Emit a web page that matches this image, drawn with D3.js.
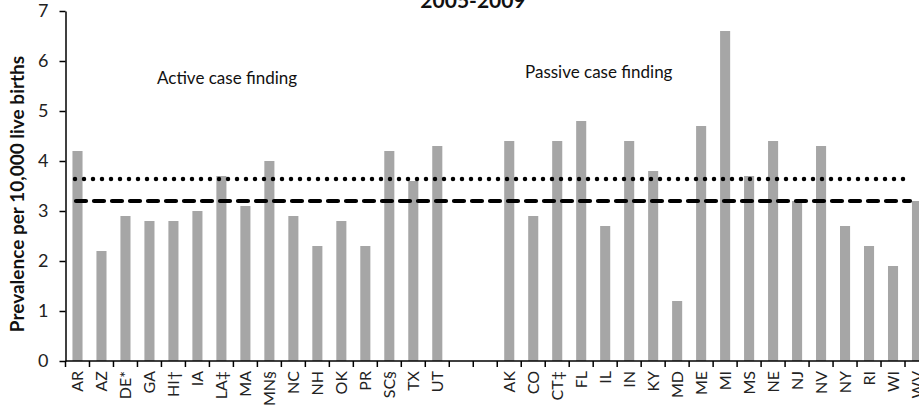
<!DOCTYPE html>
<html><head><meta charset="utf-8">
<script src="https://cdn.jsdelivr.net/npm/d3@7/dist/d3.min.js"></script>
<style>body{margin:0;background:#fff}svg{display:block}text{font-family:Lato,"Open Sans",sans-serif}</style>
</head><body><svg id="c" width="919" height="409"></svg>
<script>
const activeStates = ["AR","AZ","DE*","GA","HI†","IA","LA‡","MA","MN§","NC","NH","OK","PR","SC§","TX","UT"];
const activeValues = [4.2,2.2,2.9,2.8,2.8,3.0,3.7,3.1,4.0,2.9,2.3,2.8,2.3,4.2,3.6,4.3];
const passiveStates = ["AK","CO","CT‡","FL","IL","IN","KY","MD","ME","MI","MS","NE","NJ","NV","NY","RI","WI","WV"];
const passiveValues = [4.4,2.9,4.4,4.8,2.7,4.4,3.8,1.2,4.7,6.6,3.7,4.4,3.2,4.3,2.7,2.3,1.9,3.2];
const gapSlots = ["gap1","gap2"];
const yTicks = [0,1,2,3,4,5,6,7];
const meanActive = 3.64;   // dotted line
const meanPassive = 3.2;   // dashed line
const title = "2005-2009";
const yLabel = "Prevalence per 10,000 live births";

const slots = [...activeStates, ...gapSlots, ...passiveStates];
const data = activeStates.map((s,i)=>({s,v:activeValues[i]}))
  .concat(passiveStates.map((s,i)=>({s,v:passiveValues[i]})));

const svg = d3.select("#c");
const x = d3.scaleBand().domain(slots).range([65.5, 929]).paddingInner(0.58).paddingOuter(0.29);
const y = d3.scaleLinear().domain([0,7]).range([361, 11]);

// bars
svg.append("g").selectAll("rect").data(data).enter().append("rect")
  .attr("x", d=>x(d.s)).attr("width", x.bandwidth())
  .attr("y", d=>y(d.v)).attr("height", d=>y(0)-y(d.v))
  .attr("fill", "#a6a6a6");

// reference lines
svg.append("line").attr("x1",75).attr("x2",910).attr("y1",y(meanActive)).attr("y2",y(meanActive))
  .attr("stroke","#000").attr("stroke-width",4.5).attr("stroke-linecap","round")
  .attr("stroke-dasharray","0 9");
svg.append("line").attr("x1",76).attr("x2",910).attr("y1",y(meanPassive)).attr("y2",y(meanPassive))
  .attr("stroke","#000").attr("stroke-width",4.2).attr("stroke-linecap","round")
  .attr("stroke-dasharray","10 8");

// y axis
const ya = svg.append("g").attr("transform","translate(65.5,0)")
  .call(d3.axisLeft(y).tickValues(yTicks).tickSize(6).tickSizeOuter(0).tickFormat(d3.format("d")));
ya.select(".domain").attr("stroke","#000").attr("stroke-width",1.5);
ya.selectAll(".tick line").attr("stroke","#000").attr("stroke-width",1.5);
ya.selectAll(".tick text").attr("font-size",18).attr("fill","#222").attr("x",-17).attr("font-family","Lato,sans-serif");

// x axis
const xa = svg.append("g").attr("transform",`translate(0,${y(0)})`);
xa.append("line").attr("x1",65.5).attr("x2",929).attr("stroke","#000").attr("stroke-width",1.5);
const bounds = d3.range(slots.length+1).map(i=>x.range()[0]+i*x.step());
xa.selectAll("line.tk").data(bounds).enter().append("line").attr("class","tk")
  .attr("x1",d=>d).attr("x2",d=>d).attr("y1",0).attr("y2",6)
  .attr("stroke","#000").attr("stroke-width",1.5);
xa.selectAll("text").data(data).enter().append("text")
  .attr("transform",d=>`translate(${x(d.s)+x.bandwidth()/2+6},10) rotate(-90)`)
  .attr("text-anchor","end").attr("font-size",16).attr("fill","#222").text(d=>d.s);

// annotations
svg.append("text").attr("x",157).attr("y",84).attr("font-size",17).attr("fill","#111").text("Active case finding");
svg.append("text").attr("x",525).attr("y",78).attr("font-size",17).attr("fill","#111").text("Passive case finding");

// title
svg.append("text").attr("x",473).attr("y",8).attr("text-anchor","middle").attr("font-size",21)
  .attr("font-weight","bold").attr("fill","#111").text(title);

// y label
svg.append("text").attr("transform","translate(24,194) rotate(-90)").attr("text-anchor","middle")
  .attr("font-size",19).attr("font-weight","bold").attr("fill","#111").text(yLabel);
</script></body></html>
